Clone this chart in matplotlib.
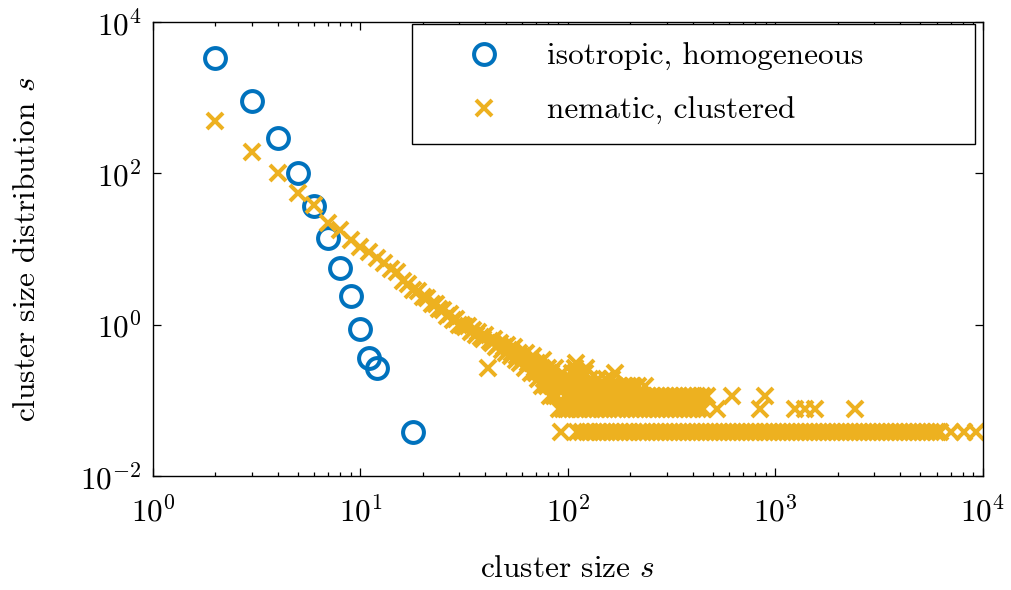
import numpy as np
import matplotlib
matplotlib.use('Agg')
import matplotlib.pyplot as plt
from matplotlib.ticker import LogLocator, NullLocator, FixedLocator

plt.rcParams['font.family'] = 'serif'
plt.rcParams['font.serif'] = ['cmr10']
plt.rcParams['mathtext.fontset'] = 'cm'
plt.rcParams['axes.formatter.use_mathtext'] = True
plt.rcParams['axes.unicode_minus'] = False

# isotropic / homogeneous state
iso_s = [2, 3, 4, 5, 6, 7, 8, 9, 10, 11, 12, 18]
iso_p = [3300, 900, 290, 100, 37, 14, 5.6, 2.4, 0.87, 0.36, 0.27, 0.0385]

# nematic / clustered state, small clusters
nem_s_head = [2, 3, 4, 5, 6, 7, 8, 9, 10, 11, 12, 13, 14, 15, 16, 17, 18, 19, 20,
              21, 22, 23, 24, 25, 26, 27, 28, 29, 30]
nem_p_head = [490, 190, 100, 55, 38, 22, 18, 13, 10.7, 9.2, 7.6, 6.6, 5.4, 4.9, 3.8,
              3.5, 2.9, 2.75, 2.3, 2.25, 1.85, 1.9, 1.6, 1.55, 1.3, 1.4, 1.15, 1.2, 1.0]

# larger clusters: counts summed over snapshots
n_snap = 26
nem_s_mid = [31, 32, 33, 34, 35, 36, 37, 38, 39, 40,
             41, 42, 43, 44, 45, 46, 47, 48, 49, 50,
             51, 52, 53, 54, 55, 56, 57, 58, 59, 60,
             61, 62, 63, 64, 65, 66, 67, 68, 69, 70,
             71, 72, 73, 74, 75, 76, 77, 78, 79, 80,
             81, 82, 83, 84, 85, 86, 87, 88, 89, 90,
             91, 92, 93, 94, 95, 96, 97, 98, 99]
nem_n_mid = [26, 24, 25, 21, 22, 19, 21, 18, 17, 19,
             7, 16, 15, 17, 13, 14, 15, 12, 13, 11,
             14, 12, 10, 11, 13, 9, 10, 11, 8, 10,
             9, 7, 11, 8, 9, 6, 8, 10, 7, 6,
             8, 5, 7, 6, 4, 9, 5, 6, 4, 7,
             5, 3, 6, 4, 5, 3, 7, 4, 3, 5,
             2, 4, 1, 6, 2, 4, 3, 2, 5]

# cluster sizes seen once, twice, ... over all snapshots
tail_1 = [111, 117, 123, 128, 134, 141, 147, 154, 162, 171, 179, 188, 197, 208, 219,
          229, 241, 254, 266, 281, 295, 309, 326, 342, 360, 378, 397, 418, 439, 462,
          486, 511, 537, 564, 593, 624, 656, 690, 725, 762, 801, 842, 886, 931, 979,
          1030, 1082, 1138, 1196, 1258, 1322, 1390, 1461, 1536, 1615, 1698, 1785,
          1877, 1973, 2074, 2181, 2293, 2410, 2534, 2664, 2801, 2944, 3096, 3254,
          3422, 3597, 3782, 3976, 4180, 4394, 4620, 4857, 5106, 5368, 5644, 5933,
          6240, 6990, 8100, 9210]
tail_2 = [100, 104, 109, 114, 120, 126, 131, 138, 144, 151, 158, 166, 174, 183, 192,
          202, 212, 223, 234, 246, 258, 270, 284, 298, 313, 329, 345, 363, 381, 402,
          423, 446, 523, 845, 1240, 1387, 1550, 2416]
tail_3 = [101, 106, 112, 118, 124, 130, 137, 143, 150, 157, 165, 173, 181, 190, 199,
          209, 220, 231, 243, 255, 268, 282, 296, 311, 327, 343, 361, 379, 398, 420,
          443, 466, 618, 890]
tail_4 = [102, 107, 113, 119, 125, 132, 139, 146, 153, 161, 169, 177, 186, 195, 206,
          218, 236]
tail_5 = [103, 110, 116, 127, 140, 152, 163]
tail_6 = [105, 115, 121, 168]
tail_7 = [108, 122]
tail_8 = [109]

tails = [tail_1, tail_2, tail_3, tail_4, tail_5, tail_6, tail_7, tail_8]
nem_s = list(nem_s_mid)
nem_n = list(nem_n_mid)
for k, t in enumerate(tails, start=1):
    nem_s += t
    nem_n += [k] * len(t)
nem_s = nem_s_head + nem_s
nem_p = nem_p_head + list(np.array(nem_n) / n_snap)

blue = '#0072BD'
orange = '#EDB120'
fs = 22.5

fig = plt.figure(figsize=(10.12, 5.9), dpi=100)
ax = fig.add_axes([0.1512, 0.1932, 0.8201, 0.7695])

ax.plot(iso_s, iso_p, 'o', ms=15, mfc='none', mec=blue, mew=2.9,
        label='isotropic, homogeneous')
ax.plot(nem_s, nem_p, 'x', ms=11.5, mec=orange, mew=2.9,
        label='nematic, clustered')

ax.set_xscale('log')
ax.set_yscale('log')
ax.set_xlim(1, 1e4)
ax.set_ylim(1e-2, 1e4)
ax.xaxis.set_major_locator(LogLocator(base=10, numticks=10))
ax.xaxis.set_minor_locator(LogLocator(base=10, subs=np.arange(2, 10), numticks=10))
ax.yaxis.set_major_locator(FixedLocator([1e-2, 1, 1e2, 1e4]))
ax.yaxis.set_minor_locator(NullLocator())

ax.tick_params(which='both', direction='in', top=True, right=True, width=0.9)
ax.tick_params(which='major', length=6, labelsize=fs)
ax.tick_params(which='minor', length=3)
ax.tick_params(axis='x', pad=14)
ax.tick_params(axis='y', pad=8)
for sp in ax.spines.values():
    sp.set_linewidth(1.0)

ax.set_xlabel(r'cluster size $s$', fontsize=fs)
ax.set_ylabel(r'cluster size distribution $s$', fontsize=fs)
ax.xaxis.set_label_coords(0.5, -0.175)
ax.yaxis.set_label_coords(-0.135, 0.5)

leg = ax.legend(loc='upper left', bbox_to_anchor=(0.312, 0.73, 0.678, 0.266),
                mode='expand', borderaxespad=0, fontsize=fs, numpoints=1,
                handlelength=3.43, handletextpad=0.28, borderpad=0.6,
                labelspacing=0.85, fancybox=False, framealpha=1)
leg.get_frame().set_edgecolor('black')
leg.get_frame().set_linewidth(1.0)

fig.savefig('out.png', dpi=100)
